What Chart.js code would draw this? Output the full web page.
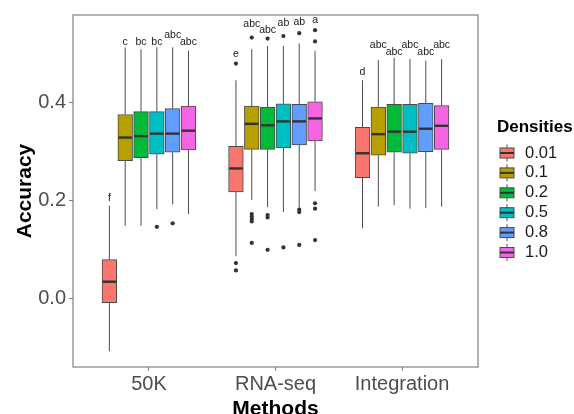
<!DOCTYPE html>
<html>
<head>
<meta charset="utf-8">
<script src="https://cdn.jsdelivr.net/npm/chart.js@4"></script>
<style>
  body { margin: 0; background: #fff; }
  #wrap { width: 574px; height: 414px; }
</style>
</head>
<body>
<div id="wrap"><canvas id="chart" width="574" height="414"></canvas></div>
<script>
// categories and series
const methods = ['50K', 'RNA-seq', 'Integration'];
const densities = ['0.01', '0.1', '0.2', '0.5', '0.8', '1.0'];
const colors = ['#F8766D', '#B79F00', '#00BA38', '#00BFC4', '#619CFF', '#F564E3'];

// box stats, one row per density, one column per method
const whiskerHi = [
  [0.189, 0.445, 0.445],
  [0.512, 0.508, 0.486],
  [0.508, 0.515, 0.491],
  [0.512, 0.515, 0.488],
  [0.512, 0.520, 0.485],
  [0.505, 0.505, 0.488]
];
const q3 = [
  [0.079, 0.310, 0.349],
  [0.375, 0.392, 0.390],
  [0.381, 0.390, 0.396],
  [0.381, 0.397, 0.396],
  [0.387, 0.396, 0.398],
  [0.392, 0.401, 0.393]
];
const medians = [
  [0.034, 0.265, 0.296],
  [0.328, 0.356, 0.335],
  [0.331, 0.353, 0.340],
  [0.336, 0.361, 0.340],
  [0.336, 0.361, 0.346],
  [0.342, 0.367, 0.352]
];
const q1 = [
  [-0.009, 0.217, 0.246],
  [0.281, 0.304, 0.292],
  [0.287, 0.304, 0.298],
  [0.294, 0.307, 0.296],
  [0.298, 0.313, 0.299],
  [0.303, 0.321, 0.304]
];
const whiskerLo = [
  [-0.108, 0.086, 0.143],
  [0.148, 0.201, 0.187],
  [0.148, 0.186, 0.190],
  [0.182, 0.176, 0.183],
  [0.192, 0.185, 0.184],
  [0.172, 0.219, 0.187]
];
// outliers: [density index, method index, value]
const outliers = [
  [3, 0, 0.146], [4, 0, 0.153],
  [0, 1, 0.479], [0, 1, 0.072], [0, 1, 0.057],
  [1, 1, 0.532], [1, 1, 0.172], [1, 1, 0.167], [1, 1, 0.162], [1, 1, 0.157], [1, 1, 0.113],
  [2, 1, 0.530], [2, 1, 0.170], [2, 1, 0.165], [2, 1, 0.099],
  [3, 1, 0.535], [3, 1, 0.104],
  [4, 1, 0.541], [4, 1, 0.181], [4, 1, 0.176], [4, 1, 0.109],
  [5, 1, 0.547], [5, 1, 0.524], [5, 1, 0.194], [5, 1, 0.183], [5, 1, 0.119]
];
// significance letters and the value they sit at
const letters = [
  ['f', 'e', 'd'],
  ['c', 'abc', 'abc'],
  ['bc', 'abc', 'abc'],
  ['bc', 'ab', 'abc'],
  ['abc', 'ab', 'abc'],
  ['abc', 'a', 'abc']
];
const letterY = [
  [0.204, 0.499, 0.461],
  [0.523, 0.560, 0.516],
  [0.523, 0.547, 0.503],
  [0.523, 0.562, 0.516],
  [0.537, 0.563, 0.503],
  [0.522, 0.567, 0.516]
];
const yTicks = [0.0, 0.2, 0.4];

const FONT = "'Liberation Sans', Arial, sans-serif";
const dodge = 0.125; // width of one box slot in method units
function xPos(d, m) { return (m + 1) + (d - 2.5) * dodge; }

let datasets = [];
densities.forEach((den, d) => {
  datasets.push({
    type: 'bar',
    label: den,
    data: methods.map((m, i) => ({ x: xPos(d, i), y: [q1[d][i], q3[d][i]] })),
    backgroundColor: colors[d],
    borderColor: '#4a4a4a',
    borderWidth: 1,
    borderSkipped: false,
    grouped: false,
    barThickness: 14.7,
    maxBarThickness: 14.7
  });
});
densities.forEach((den, d) => {
  datasets.push({
    type: 'scatter',
    label: den + ' outliers',
    data: outliers.filter(o => o[0] === d).map(o => ({ x: xPos(d, o[1]), y: o[2] })),
    backgroundColor: '#333',
    borderWidth: 0,
    pointRadius: 2.1
  });
});

const boxExtras = {
  id: 'boxExtras',
  beforeDatasetsDraw(chart) {
    let ctx = chart.ctx;
    let ys = chart.scales.y;
    ctx.save();
    ctx.strokeStyle = '#4d4d4d';
    ctx.lineWidth = 1;
    densities.forEach((den, d) => {
      let meta = chart.getDatasetMeta(d);
      meta.data.forEach((bar, i) => {
        ctx.beginPath();
        ctx.moveTo(bar.x, ys.getPixelForValue(q3[d][i]));
        ctx.lineTo(bar.x, ys.getPixelForValue(whiskerHi[d][i]));
        ctx.moveTo(bar.x, ys.getPixelForValue(q1[d][i]));
        ctx.lineTo(bar.x, ys.getPixelForValue(whiskerLo[d][i]));
        ctx.stroke();
      });
    });
    ctx.restore();
  },
  afterDatasetsDraw(chart) {
    let ctx = chart.ctx;
    let ys = chart.scales.y;
    let area = chart.chartArea;
    ctx.save();
    // medians
    ctx.strokeStyle = '#333';
    ctx.lineWidth = 2.4;
    densities.forEach((den, d) => {
      let meta = chart.getDatasetMeta(d);
      meta.data.forEach((bar, i) => {
        let y = ys.getPixelForValue(medians[d][i]);
        ctx.beginPath();
        ctx.moveTo(bar.x - bar.width / 2 + 0.5, y);
        ctx.lineTo(bar.x + bar.width / 2 - 0.5, y);
        ctx.stroke();
      });
    });
    // letters
    ctx.fillStyle = '#1a1a1a';
    ctx.font = '10.5px ' + FONT;
    ctx.textAlign = 'center';
    ctx.textBaseline = 'middle';
    densities.forEach((den, d) => {
      let meta = chart.getDatasetMeta(d);
      meta.data.forEach((bar, i) => {
        ctx.fillText(letters[d][i], bar.x, ys.getPixelForValue(letterY[d][i]));
      });
    });
    // panel border
    ctx.strokeStyle = '#808080';
    ctx.lineWidth = 1.2;
    ctx.strokeRect(area.left, area.top, area.right - area.left, area.bottom - area.top);
    ctx.restore();
  },
  afterDraw(chart) {
    // legend
    let ctx = chart.ctx;
    ctx.save();
    ctx.fillStyle = '#000';
    ctx.font = 'bold 17px ' + FONT;
    ctx.textAlign = 'left';
    ctx.textBaseline = 'middle';
    ctx.fillText('Densities', 497, 127);
    ctx.font = '16.5px ' + FONT;
    densities.forEach((den, d) => {
      let cy = 153 + d * 19.9;
      let cx = 507;
      ctx.strokeStyle = '#555';
      ctx.lineWidth = 1;
      ctx.beginPath();
      ctx.moveTo(cx, cy - 8.5);
      ctx.lineTo(cx, cy + 8.5);
      ctx.stroke();
      ctx.fillStyle = colors[d];
      ctx.fillRect(cx - 7, cy - 5, 14, 10);
      ctx.strokeStyle = '#4a4a4a';
      ctx.strokeRect(cx - 7, cy - 5, 14, 10);
      ctx.strokeStyle = '#333';
      ctx.lineWidth = 2;
      ctx.beginPath();
      ctx.moveTo(cx - 7, cy);
      ctx.lineTo(cx + 7, cy);
      ctx.stroke();
      ctx.fillStyle = '#1a1a1a';
      ctx.fillText(den, 525, cy);
    });
    ctx.restore();
  }
};

new Chart(document.getElementById('chart'), {
  type: 'bar',
  data: { datasets: datasets },
  options: {
    responsive: false,
    animation: false,
    events: [],
    layout: { padding: { left: 0, right: 96, top: 12, bottom: 0 } },
    plugins: { legend: { display: false }, tooltip: { enabled: false } },
    scales: {
      x: {
        type: 'linear',
        min: 0.4,
        max: 3.6,
        offset: false,
        afterBuildTicks: s => { s.ticks = methods.map((m, i) => ({ value: i + 1 })); },
        afterFit: s => { s.height = 47; },
        ticks: {
          callback: v => methods[v - 1],
          color: '#4d4d4d',
          font: { family: FONT, size: 20 },
          padding: 1,
          maxRotation: 0,
          autoSkip: false
        },
        grid: { drawOnChartArea: false, offset: false, tickLength: 4, color: '#808080' },
        border: { display: false },
        title: {
          display: true,
          text: 'Methods',
          color: '#000',
          font: { family: FONT, size: 21, weight: 'bold' },
          padding: { top: 0, bottom: -8 }
        }
      },
      y: {
        min: -0.14,
        max: 0.578,
        afterBuildTicks: s => { s.ticks = yTicks.map(v => ({ value: v })); },
        afterFit: s => { s.width = 73; },
        ticks: {
          callback: v => v.toFixed(1),
          color: '#4d4d4d',
          font: { family: FONT, size: 20 },
          padding: 3
        },
        grid: { drawOnChartArea: false, tickLength: 4, color: '#808080' },
        border: { display: false },
        title: {
          display: true,
          text: 'Accuracy',
          color: '#000',
          font: { family: FONT, size: 21, weight: 'bold' },
          padding: { top: 13, bottom: 0 }
        }
      }
    }
  },
  plugins: [boxExtras]
});
</script>
</body>
</html>
